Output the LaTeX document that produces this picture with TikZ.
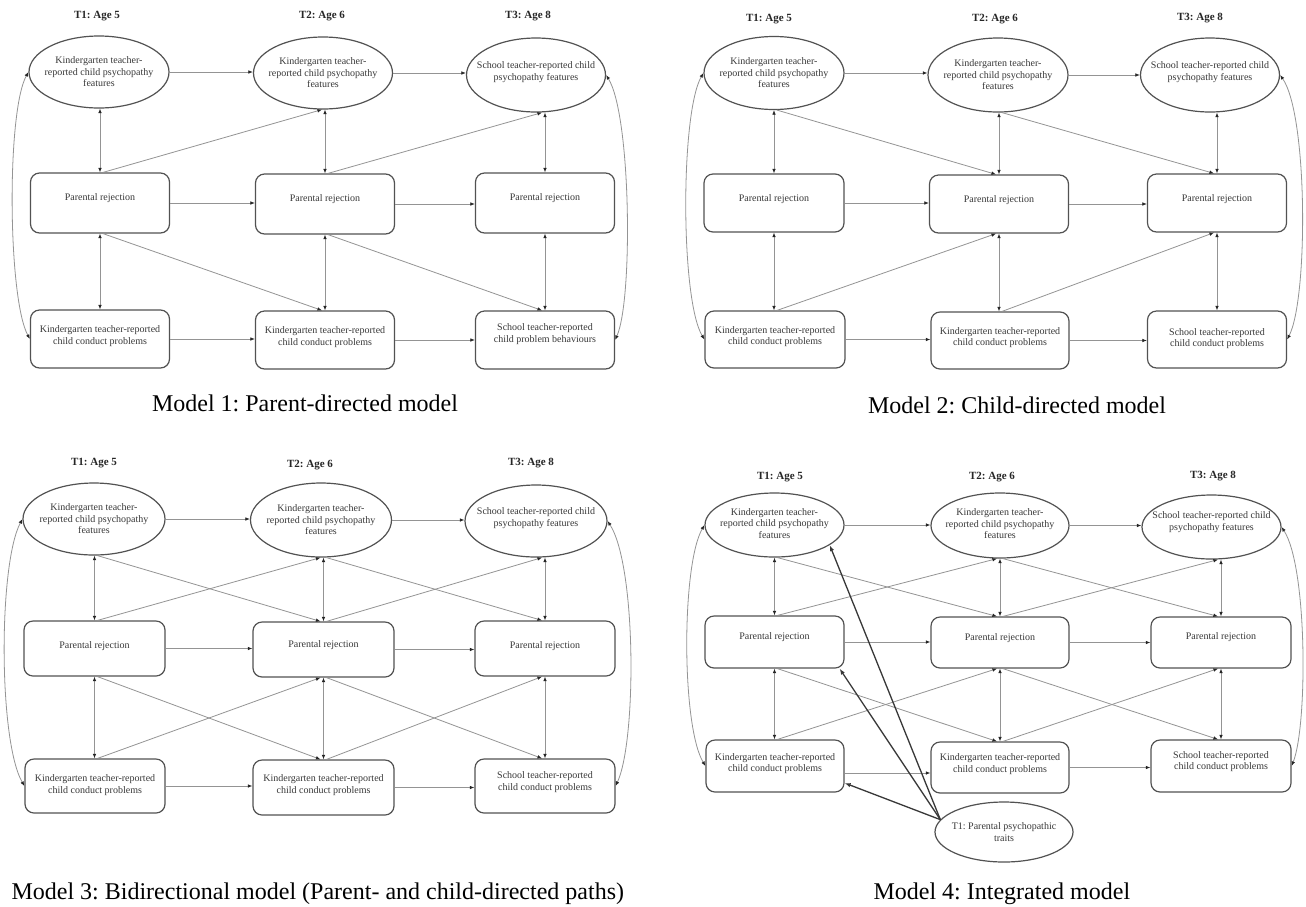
\documentclass[tikz,border=0pt]{standalone}
\usepackage{fontspec}
\setmainfont{Liberation Serif}
\usetikzlibrary{shapes.geometric,arrows.meta}
\frenchspacing
\newcommand\mynodefont{\fontsize{10pt}{11.5pt}\selectfont}
\newcommand\myhdrfont{\fontsize{11pt}{13pt}\selectfont\bfseries}
\newcommand\mycapfont{\fontsize{24pt}{28pt}\selectfont}
\tikzset{
  ell/.style={ellipse, draw=black!68, line width=1.2pt, inner sep=0pt},
  box/.style={rectangle, rounded corners=9pt, draw=black!68, line width=1.2pt, inner sep=0pt},
  sz/.style 2 args={minimum width=#1pt, minimum height=#2pt},
  lbl/.style={align=center, font=\mynodefont, text=black!78, inner sep=0pt},
  hdr/.style={font=\myhdrfont, text=black!85},
  captext/.style={font=\mycapfont, anchor=base},
  captextw/.style={font=\mycapfont, anchor=base west},
  arr/.tip={Latex[length=4.6pt,width=3.6pt,color=black!85]},
  conn/.style={draw=black!42, line width=0.8pt, -arr},
  biconn/.style={draw=black!42, line width=0.8pt, arr-arr},
  trait/.style={draw=black!78, line width=1.3pt, -{Latex[length=6pt,width=4.4pt]}},
}
\newcommand\hconn[1]{%
  \draw[conn] (#1e1.east) -- (#1e1.east -| #1e2.west);
  \draw[conn] (#1e2.east) -- (#1e2.east -| #1e3.west);
  \draw[conn] (#1p1.east) -- (#1p1.east -| #1p2.west);
  \draw[conn] (#1p2.east) -- (#1p2.east -| #1p3.west);
  \draw[conn] (#1c2.east) -- (#1c2.east -| #1c3.west);
}
\newcommand\vconn[1]{%
  \foreach \k in {1,2,3}{
    \draw[biconn] (#1p\k.north) -- (#1p\k.north |- #1e\k.south);
    \draw[biconn] (#1p\k.south) -- (#1p\k.south |- #1c\k.north);
  }
}
\newcommand\pconn[1]{%
  \draw[conn] ([xshift=3pt]#1p1.north) -- ([xshift=-3pt]#1p2.north |- #1e2.south);
  \draw[conn] ([xshift=3pt]#1p2.north) -- ([xshift=-3pt]#1p3.north |- #1e3.south);
  \draw[conn] ([xshift=3pt]#1p1.south) -- ([xshift=-3pt]#1p2.south |- #1c2.north);
  \draw[conn] ([xshift=3pt]#1p2.south) -- ([xshift=-3pt]#1p3.south |- #1c3.north);
}
\newcommand\cconn[1]{%
  \draw[conn] ([xshift=3pt]#1p1.north |- #1e1.south) -- ([xshift=-3pt]#1p2.north);
  \draw[conn] ([xshift=3pt]#1p2.north |- #1e2.south) -- ([xshift=-3pt]#1p3.north);
  \draw[conn] ([xshift=3pt]#1p1.south |- #1c1.north) -- ([xshift=-3pt]#1p2.south);
  \draw[conn] ([xshift=3pt]#1p2.south |- #1c2.north) -- ([xshift=-3pt]#1p3.south);
}
\begin{document}
\begin{tikzpicture}[x=1pt, y=-1pt]
\useasboundingbox (0,0) rectangle (1306,906);
\fill[white] (0,0) rectangle (1306,906);

% ---------------- Model 1 ----------------
\node[hdr] (m1h1) at (97,16) {T1: Age 5};
\node[hdr] (m1h2) at (322,16) {T2: Age 6};
\node[hdr] (m1h3) at (528,16) {T3: Age 8};
\node[ell, sz={140}{72}, label={[lbl]center:{Kindergarten teacher-\\reported child psychopathy\\features}}] (m1e1) at (99,72) {};
\node[ell, sz={139}{72}, label={[lbl]center:{Kindergarten teacher-\\reported child psychopathy\\features}}] (m1e2) at (323,73) {};
\node[ell, sz={139}{74}, label={[lbl,yshift=3pt]center:{School teacher-reported child\\psychopathy features}}] (m1e3) at (536,75) {};
\node[box, sz={139}{60}, label={[lbl,yshift=5pt]center:{Parental rejection}}] (m1p1) at (100,203) {};
\node[box, sz={139}{60}, label={[lbl,yshift=5pt]center:{Parental rejection}}] (m1p2) at (325,204) {};
\node[box, sz={139}{60}, label={[lbl,yshift=5pt]center:{Parental rejection}}] (m1p3) at (545,203) {};
\node[box, sz={139}{58}, label={[lbl,yshift=3pt]center:{Kindergarten teacher-reported\\child conduct problems}}] (m1c1) at (100,339) {};
\node[box, sz={139}{58}, label={[lbl,yshift=3pt]center:{Kindergarten teacher-reported\\child conduct problems}}] (m1c2) at (325,340) {};
\node[box, sz={139}{58}, label={[lbl,yshift=6pt]center:{School teacher-reported\\child problem behaviours}}] (m1c3) at (545,340) {};
\node[captext] (m1cap) at (305,411) {Model 1: Parent-directed model};
\hconn{m1}
\draw[conn] (m1c1.east) -- (m1c1.east -| m1c2.west);
\vconn{m1}
\pconn{m1}
\draw[biconn] (m1e1.west) .. controls +(-22,40) and +(-22,-40) .. (m1c1.west);
\draw[biconn] (m1e3.east) .. controls +(25,40) and +(18,-40) .. (m1c3.east);

% ---------------- Model 2 ----------------
\node[hdr] (m2h1) at (769,19) {T1: Age 5};
\node[hdr] (m2h2) at (995,19) {T2: Age 6};
\node[hdr] (m2h3) at (1200,18) {T3: Age 8};
\node[ell, sz={140}{73}, label={[lbl]center:{Kindergarten teacher-\\reported child psychopathy\\features}}] (m2e1) at (774,73) {};
\node[ell, sz={140}{74}, label={[lbl]center:{Kindergarten teacher-\\reported child psychopathy\\features}}] (m2e2) at (998,75) {};
\node[ell, sz={139}{74}, label={[lbl,yshift=3pt]center:{School teacher-reported child\\psychopathy features}}] (m2e3) at (1210,75) {};
\node[box, sz={140}{58}, label={[lbl,yshift=4pt]center:{Parental rejection}}] (m2p1) at (774,203) {};
\node[box, sz={139}{58}, label={[lbl,yshift=4pt]center:{Parental rejection}}] (m2p2) at (999,204) {};
\node[box, sz={139}{58}, label={[lbl,yshift=4pt]center:{Parental rejection}}] (m2p3) at (1217,203) {};
\node[box, sz={140}{57}, label={[lbl,yshift=3pt]center:{Kindergarten teacher-reported\\child conduct problems}}] (m2c1) at (775,339.5) {};
\node[box, sz={138}{57}, label={[lbl,yshift=3pt]center:{Kindergarten teacher-reported\\child conduct problems}}] (m2c2) at (1000,340.5) {};
\node[box, sz={139}{57}, label={[lbl,yshift=1pt]center:{School teacher-reported\\child conduct problems}}] (m2c3) at (1217,339.5) {};
\node[captext] (m2cap) at (1017,413) {Model 2: Child-directed model};
\hconn{m2}
\draw[conn] (m2c1.east) -- (m2c1.east -| m2c2.west);
\vconn{m2}
\cconn{m2}
\draw[biconn] (m2e1.west) .. controls +(-23,40) and +(-24,-40) .. (m2c1.west);
\draw[biconn] (m2e3.east) .. controls +(28,40) and +(21,-40) .. (m2c3.east);

% ---------------- Model 3 ----------------
\node[hdr] (m3h1) at (94,463) {T1: Age 5};
\node[hdr] (m3h2) at (310,465) {T2: Age 6};
\node[hdr] (m3h3) at (531,463) {T3: Age 8};
\node[ell, sz={142}{72}, label={[lbl]center:{Kindergarten teacher-\\reported child psychopathy\\features}}] (m3e1) at (94,519) {};
\node[ell, sz={141}{74}, label={[lbl]center:{Kindergarten teacher-\\reported child psychopathy\\features}}] (m3e2) at (321,520) {};
\node[ell, sz={142}{72}, label={[lbl,yshift=3pt]center:{School teacher-reported child\\psychopathy features}}] (m3e3) at (536,521) {};
\node[box, sz={141}{55}, label={[lbl,yshift=2pt]center:{Parental rejection}}] (m3p1) at (94.5,648.5) {};
\node[box, sz={141}{55}, label={[lbl,yshift=4pt]center:{Parental rejection}}] (m3p2) at (323.5,649.5) {};
\node[box, sz={140}{55}, label={[lbl,yshift=2pt]center:{Parental rejection}}] (m3p3) at (545,648.5) {};
\node[box, sz={140}{54}, label={[lbl,yshift=1pt]center:{Kindergarten teacher-reported\\child conduct problems}}] (m3c1) at (95,786) {};
\node[box, sz={141}{55}, label={[lbl,yshift=2.5pt]center:{Kindergarten teacher-reported\\child conduct problems}}] (m3c2) at (323.5,787.5) {};
\node[box, sz={140}{54}, label={[lbl,yshift=4pt]center:{School teacher-reported\\child conduct problems}}] (m3c3) at (545,786) {};
\node[captextw] (m3cap) at (8,899) {Model 3: Bidirectional model (Parent- and child-directed paths)};
\hconn{m3}
\draw[conn] (m3c1.east) -- (m3c1.east -| m3c2.west);
\vconn{m3}
\pconn{m3}
\cconn{m3}
\draw[biconn] (m3e1.west) .. controls +(-24,45) and +(-26,-45) .. (m3c1.west);
\draw[biconn] (m3e3.east) .. controls +(29,45) and +(21,-45) .. (m3c3.east);

% ---------------- Model 4 ----------------
\node[hdr] (m4h1) at (780,477) {T1: Age 5};
\node[hdr] (m4h2) at (992,477) {T2: Age 6};
\node[hdr] (m4h3) at (1213,476) {T3: Age 8};
\node[ell, sz={139}{64}, label={[lbl,yshift=1.5pt]center:{Kindergarten teacher-\\reported child psychopathy\\features}}] (m4e1) at (774.5,525) {};
\node[ell, sz={138}{65}, label={[lbl,yshift=1.5pt]center:{Kindergarten teacher-\\reported child psychopathy\\features}}] (m4e2) at (1000,525.5) {};
\node[ell, sz={139}{64}, label={[lbl,yshift=5pt]center:{School teacher-reported child\\psychopathy features}}] (m4e3) at (1211.5,527) {};
\node[box, sz={139}{52}, label={[lbl,yshift=5pt]center:{Parental rejection}}] (m4p1) at (774.5,642) {};
\node[box, sz={138}{51}, label={[lbl,yshift=4.5pt]center:{Parental rejection}}] (m4p2) at (1000,642.5) {};
\node[box, sz={140}{51}, label={[lbl,yshift=5pt]center:{Parental rejection}}] (m4p3) at (1221,642.5) {};
\node[box, sz={138}{52}, label={[lbl,yshift=2.5pt]center:{Kindergarten teacher-reported\\child conduct problems}}] (m4c1) at (775,766) {};
\node[box, sz={138}{51}, label={[lbl,yshift=3.5pt]center:{Kindergarten teacher-reported\\child conduct problems}}] (m4c2) at (1000,767.5) {};
\node[box, sz={140}{52}, label={[lbl,yshift=4.5pt]center:{School teacher-reported\\child conduct problems}}] (m4c3) at (1221,766) {};
\node[ell, sz={138}{60}, label={[lbl]center:{T1: Parental psychopathic\\traits}}] (m4t) at (1004,832) {};
\node[captextw] (m4cap) at (870,899) {Model 4: Integrated model};
\hconn{m4}
\draw[conn] ([yshift=-7pt]m4c1.east) -- ([yshift=-7pt]m4c1.east -| m4c2.west);
\vconn{m4}
\pconn{m4}
\cconn{m4}
\draw[biconn] (m4e1.west) .. controls +(-23,40) and +(-24,-40) .. (m4c1.west);
\draw[biconn] (m4e3.east) .. controls +(26,40) and +(16,-40) .. (m4c3.east);
\draw[trait] (m4t.169) -- (m4e1.-20);
\draw[trait] (m4t.169) -- ([xshift=-5pt]m4p1.south east);
\draw[trait] (m4t.169) -- ([yshift=-17pt]m4c1.east);
\end{tikzpicture}
\end{document}
